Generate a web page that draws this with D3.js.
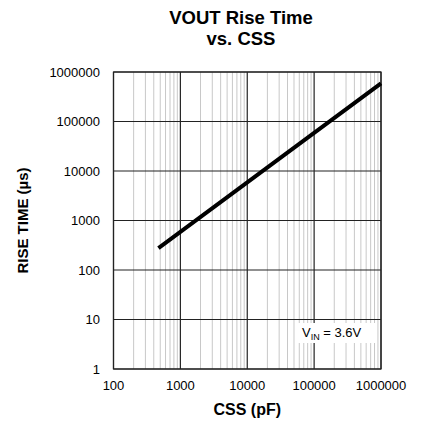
<!DOCTYPE html>
<html>
<head>
<meta charset="utf-8">
<script src="https://cdn.jsdelivr.net/npm/d3@7"></script>
<style>
    body { margin: 0; background: #fff; }
    svg { font-family: Arial, "Liberation Sans", sans-serif; }
</style>
</head>
<body>
<svg id="chart" width="423" height="428"></svg>
<script>
// data (CSS in pF, rise time in us)
const css = [470, 1000, 10000, 100000, 1000000];
const riseTime = [277, 590, 5900, 59000, 590000];

const xTicks = [100, 1000, 10000, 100000, 1000000];
const yTicks = [1, 10, 100, 1000, 10000, 100000, 1000000];

const svg = d3.select("#chart");

const plot = { left: 113.5, right: 381, top: 72, bottom: 369 };

const xScale = d3.scaleLog().domain([100, 1000000]).range([plot.left, plot.right]);
const yScale = d3.scaleLog().domain([1, 1000000]).range([plot.bottom, plot.top]);

// minor vertical grid
const minorX = [];
for (let d = 100; d < 1000000; d *= 10) {
    for (let k = 2; k <= 9; k++) minorX.push(d * k);
}
svg.append("g")
    .selectAll("line")
    .data(minorX)
    .join("line")
    .attr("x1", d => xScale(d)).attr("x2", d => xScale(d))
    .attr("y1", plot.top).attr("y2", plot.bottom)
    .attr("stroke", "#c8c8c8")
    .attr("stroke-width", 1);

// major grid
svg.append("g")
    .selectAll("line")
    .data(xTicks)
    .join("line")
    .attr("x1", d => xScale(d)).attr("x2", d => xScale(d))
    .attr("y1", plot.top).attr("y2", plot.bottom)
    .attr("stroke", "#222")
    .attr("stroke-width", 1.2);
svg.append("g")
    .selectAll("line")
    .data(yTicks)
    .join("line")
    .attr("x1", plot.left).attr("x2", plot.right)
    .attr("y1", d => yScale(d)).attr("y2", d => yScale(d))
    .attr("stroke", "#222")
    .attr("stroke-width", 1.2);

// frame
svg.append("rect")
    .attr("x", plot.left).attr("y", plot.top)
    .attr("width", plot.right - plot.left).attr("height", plot.bottom - plot.top)
    .attr("fill", "none")
    .attr("stroke", "#222")
    .attr("stroke-width", 1.2);

// tick labels
svg.append("g")
    .selectAll("text")
    .data(xTicks)
    .join("text")
    .attr("x", d => xScale(d))
    .attr("y", 390)
    .attr("text-anchor", "middle")
    .attr("font-size", 13)
    .text(d => d);
svg.append("g")
    .selectAll("text")
    .data(yTicks)
    .join("text")
    .attr("x", 100)
    .attr("y", d => yScale(d) + 4.5)
    .attr("text-anchor", "end")
    .attr("font-size", 13)
    .text(d => d);

// legend box
svg.append("rect")
    .attr("x", 297).attr("y", 323)
    .attr("width", 79).attr("height", 20)
    .attr("fill", "#fff");
const leg = svg.append("text")
    .attr("x", 302).attr("y", 337)
    .attr("font-size", 13);
leg.append("tspan").text("V");
leg.append("tspan").attr("dy", 3).attr("font-size", 9).text("IN");
leg.append("tspan").attr("dy", -3).text(" = 3.6V");

// data line
const line = d3.line()
    .x((d, i) => xScale(css[i]))
    .y(d => yScale(d));
svg.append("path")
    .attr("d", line(riseTime))
    .attr("fill", "none")
    .attr("stroke", "#000")
    .attr("stroke-width", 4);

// titles
svg.append("text")
    .attr("x", 241).attr("y", 23.5)
    .attr("text-anchor", "middle")
    .attr("font-size", 18.5)
    .attr("font-weight", "bold")
    .text("VOUT Rise Time");
svg.append("text")
    .attr("x", 241).attr("y", 45)
    .attr("text-anchor", "middle")
    .attr("font-size", 18.5)
    .attr("font-weight", "bold")
    .text("vs. CSS");
svg.append("text")
    .attr("x", (plot.left + plot.right) / 2).attr("y", 415)
    .attr("text-anchor", "middle")
    .attr("font-size", 16)
    .attr("font-weight", "bold")
    .text("CSS (pF)");
svg.append("text")
    .attr("transform", `translate(28,${(plot.top + plot.bottom) / 2}) rotate(-90)`)
    .attr("text-anchor", "middle")
    .attr("font-size", 15)
    .attr("font-weight", "bold")
    .text("RISE TIME (µs)");
</script>
</body>
</html>
